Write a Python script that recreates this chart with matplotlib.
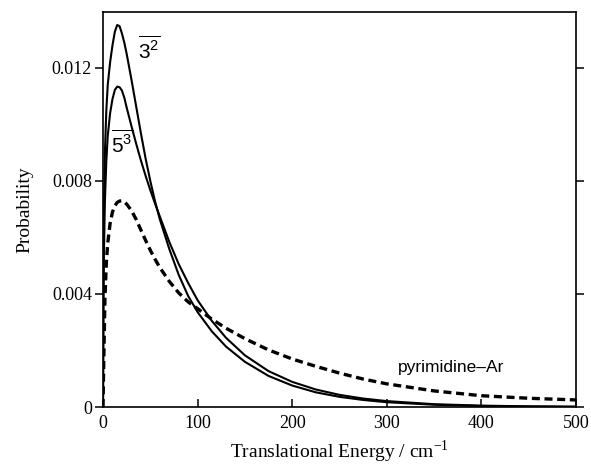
import matplotlib
matplotlib.use("Agg")
import matplotlib.pyplot as plt

# translational energy grid (cm^-1)
energy = [0, 0.5, 1, 2, 3.5, 5, 7.5, 10, 12.5, 15, 17.5, 20, 22.5, 25, 30, 35,
          40, 45, 50, 55, 60, 70, 80, 90, 100, 115, 130, 150, 175, 200, 225,
          250, 275, 300, 350, 400, 450, 500]

prob_3_2 = [0, 0.0050, 0.0068, 0.0090, 0.0105, 0.0114, 0.0122, 0.0128,
            0.01328, 0.01352, 0.01348, 0.01322, 0.0129, 0.0125, 0.0116,
            0.01065, 0.0097, 0.0088, 0.0080, 0.00728, 0.00665, 0.0056,
            0.00468, 0.00393, 0.00336, 0.00268, 0.00214, 0.0016, 0.0011,
            0.00076, 0.00052, 0.00036, 0.00025, 0.00017, 0.00008, 0.000037,
            0.000017, 0.000008]

prob_5_3 = [0, 0.0040, 0.0055, 0.0073, 0.0087, 0.0096, 0.0104, 0.0109,
            0.01122, 0.01134, 0.01132, 0.0112, 0.01095, 0.0106, 0.00995,
            0.009325, 0.008735, 0.008185, 0.007675, 0.0072, 0.00675, 0.00585,
            0.00506, 0.00439, 0.00378, 0.00305, 0.00245, 0.00183, 0.00127,
            0.00089, 0.00062, 0.00043, 0.0003, 0.00021, 0.0001, 0.000049,
            0.000024, 0.000011]

prob_pyr_ar = [0, 0.0011, 0.0020, 0.0038, 0.0051, 0.0058, 0.0065, 0.0069,
               0.00712, 0.00724, 0.00729, 0.0073, 0.00726, 0.00718, 0.00696,
               0.00664, 0.00627, 0.0059, 0.00555, 0.00523, 0.00494, 0.00445,
               0.00404, 0.00372, 0.00348, 0.00311, 0.00279, 0.00242, 0.00202,
               0.0017, 0.00144, 0.0012, 0.00099, 0.00082, 0.00057, 0.0004,
               0.00031, 0.00025]

x_ticks = [0, 100, 200, 300, 400, 500]
y_ticks = [0, 0.004, 0.008, 0.012]
y_tick_labels = ["0", "0.004", "0.008", "0.012"]

plt.rcParams["mathtext.fontset"] = "custom"
plt.rcParams["mathtext.rm"] = "Liberation Serif"
plt.rcParams["mathtext.sf"] = "Liberation Sans"

serif = "Liberation Serif"
sans = "Liberation Sans"

fig = plt.figure(figsize=(5.91, 4.73), dpi=100)
ax = fig.add_axes([0.1743, 0.1395, 0.8003, 0.8351])

ax.plot(energy, prob_3_2, color="black", lw=1.5)
ax.plot(energy, prob_5_3, color="black", lw=1.5)
ax.plot(energy, prob_pyr_ar, color="black", lw=2.4, dashes=(2.4, 1.4))

ax.set_xlim(0, 500)
ax.set_ylim(0, 0.01398)

ax.set_xticks(x_ticks)
ax.set_xticklabels([str(t) for t in x_ticks], fontfamily=serif, fontsize=13)
ax.set_yticks(y_ticks)
ax.set_yticklabels(y_tick_labels, fontfamily=serif, fontsize=13)

ax.tick_params(axis="x", direction="in", length=6, width=1.1, pad=6)
ax.tick_params(axis="y", direction="out", length=6, width=1.1, right=True, pad=2)
for sp in ax.spines.values():
    sp.set_linewidth(1.2)

ax.set_xlabel("Translational Energy / cm$^{-1}$", fontfamily=serif,
              fontsize=14, labelpad=4)
ax.set_ylabel("Probability", fontfamily=serif, fontsize=14, labelpad=13)

ax.text(48.6, 0.01231, r"$\overline{\mathsf{3}^{\mathsf{2}}}$", fontsize=15,
        ha="center", va="baseline")
ax.text(20.1, 0.00898, r"$\overline{\mathsf{5}^{\mathsf{3}}}$", fontsize=15,
        ha="center", va="baseline")
ax.text(368, 0.00125, "pyrimidine–Ar", fontfamily=sans, fontsize=12.5,
        ha="center", va="baseline")

fig.savefig("out.png", dpi=100)
